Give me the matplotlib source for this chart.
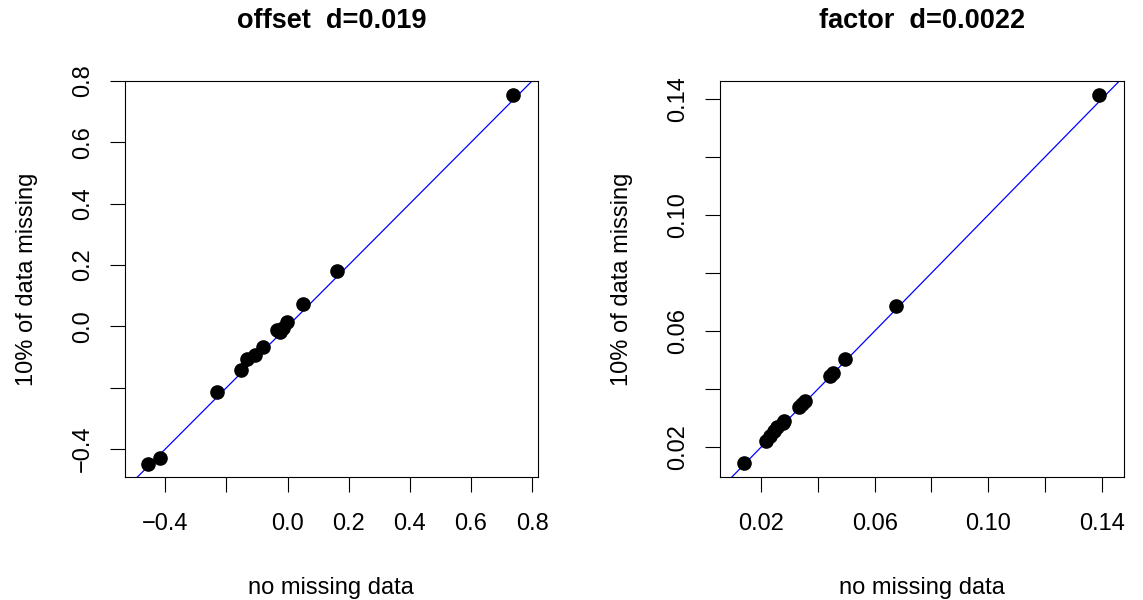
"""
Missing-data comparison: estimates with 10% missing vs complete data.
Two R-style scatter panels with identity line.
"""

import numpy as np
import matplotlib
matplotlib.use("Agg")
import matplotlib.pyplot as plt

plt.rcParams["font.family"] = ["Liberation Sans", "DejaVu Sans"]

# ── data ────────────────────────────────────────────────────────
offset_full = [-0.456, -0.417, -0.232, -0.153, -0.134, -0.107, -0.080,
               -0.036, -0.025, -0.014, -0.003, 0.051, 0.162, 0.739]
offset_miss = [-0.449, -0.429, -0.214, -0.143, -0.108, -0.094, -0.069,
               -0.012, -0.018, -0.004, 0.015, 0.072, 0.180, 0.753]

factor_full = [0.0141, 0.0216, 0.0231, 0.0244, 0.0257, 0.0276, 0.0282,
               0.0332, 0.0345, 0.0355, 0.0442, 0.0452, 0.0496, 0.0675,
               0.1390]
factor_miss = [0.0145, 0.0222, 0.0239, 0.0255, 0.0268, 0.0284, 0.0289,
               0.0338, 0.0350, 0.0360, 0.0444, 0.0456, 0.0502, 0.0686,
               0.1412]

offset_ticks = [-0.4, -0.2, 0.0, 0.2, 0.4, 0.6, 0.8]
offset_labels = ["\u22120.4", "", "0.0", "0.2", "0.4", "0.6", "0.8"]
factor_ticks = [0.02, 0.04, 0.06, 0.08, 0.10, 0.12, 0.14]
factor_labels = ["0.02", "", "0.06", "", "0.10", "", "0.14"]

panels = [
    ("offset  d=0.019", offset_full, offset_miss,
     (-0.532, 0.818), (-0.493, 0.800), offset_ticks, offset_labels,
     [0.1094, 0.2042, 0.3609, 0.6608]),
    ("factor  d=0.0022", factor_full, factor_miss,
     (0.00552, 0.1478), (0.00954, 0.14615), factor_ticks, factor_labels,
     [0.6299, 0.2042, 0.3535, 0.6608]),
]

fig = plt.figure(figsize=(11.43, 6.0), dpi=100)

for title, xs, ys, xlim, ylim, ticks, labels, rect in panels:
    ax = fig.add_axes(rect)
    lo = min(xlim[0], ylim[0])
    hi = max(xlim[1], ylim[1])
    # identity line y = x
    ax.plot([lo, hi], [lo, hi], color="#0000ff", lw=0.9, zorder=2)
    ax.plot(xs, ys, "o", color="black", ms=9.5, zorder=3)
    ax.set_xlim(*xlim)
    ax.set_ylim(*ylim)
    ax.set_xticks(ticks)
    ax.set_xticklabels(labels)
    ax.set_yticks(ticks)
    ax.set_yticklabels(labels, rotation=90, va="center")
    ax.tick_params(axis="both", direction="out", length=10.5, width=0.8,
                   labelsize=17)
    ax.tick_params(axis="x", pad=15)
    ax.tick_params(axis="y", pad=12)
    for s in ax.spines.values():
        s.set_linewidth(0.8)
    ax.set_title(title, fontsize=19.5, fontweight="bold", pad=38)
    ax.set_xlabel("no missing data", fontsize=17, labelpad=30)
    ax.set_ylabel("10% of data missing", fontsize=17, labelpad=24)

plt.savefig("out.png", dpi=100)
plt.close()
